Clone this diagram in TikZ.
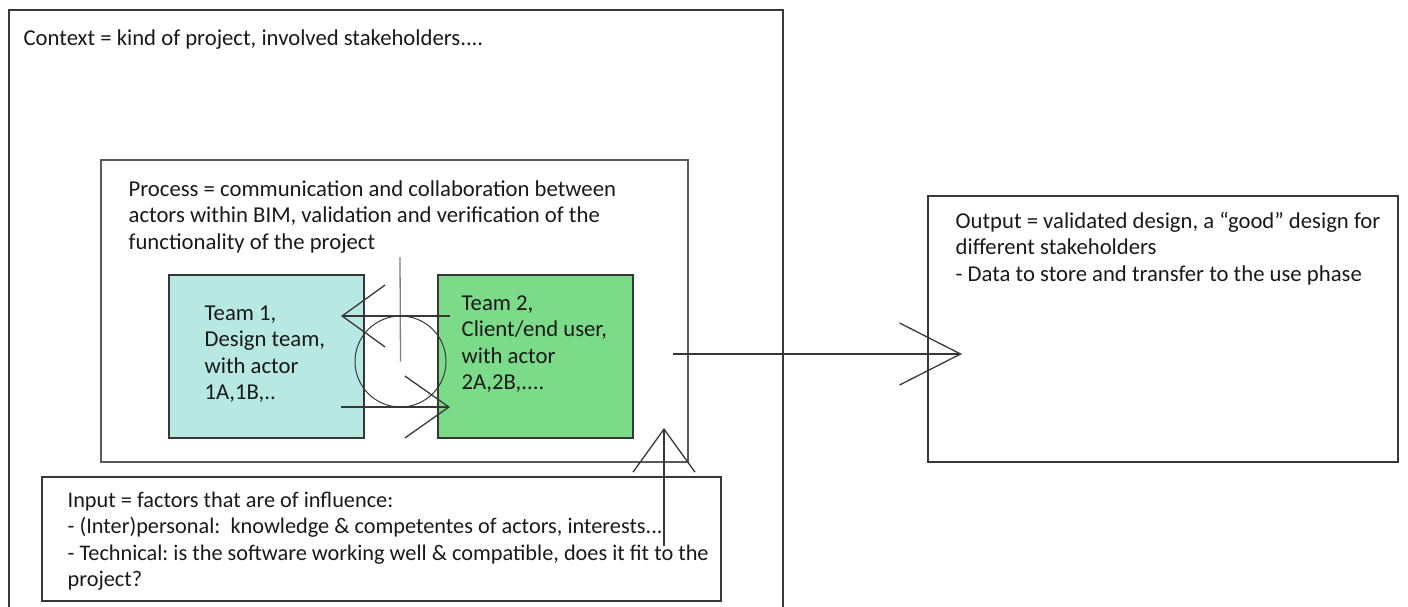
\documentclass[tikz,border=0pt]{standalone}
\usepackage{fontspec}
\setmainfont{Carlito}
\usepackage{tikz}
\usetikzlibrary{arrows.meta}
\definecolor{teamcyan}{RGB}{183,233,226}
\definecolor{teamgreen}{RGB}{124,219,137}
\definecolor{framegray}{RGB}{55,55,55}
\tikzset{every picture/.style={line width=1.3pt}}
\frenchspacing

\begin{document}
\begin{tikzpicture}[x=1pt,y=1pt,yscale=-1,xscale=1,
  box/.style={draw=framegray, rectangle, inner sep=0pt, outer sep=0pt},
  txt/.style={anchor=base west, inner sep=0pt, align=left, text=black!90, font=\fontsize{22.7}{26.5}\selectfont},
  barb/.style={draw=framegray, -{Straight Barb[length=#1,width=62pt]}}]
\useasboundingbox (0,0) rectangle (1408,607);
\clip (0,0) rectangle (1408,607);

%Shape: Rectangle -- context
\node[box, minimum width=774, minimum height=640] (ctx) at (396,330) {};
\node[txt] (ctxtext) at (23,46) {Context = kind of project, involved stakeholders....};
%Shape: Rectangle -- process (text anchored at its last baseline)
\node[box, draw=gray!70!black, line width=1.7pt, minimum width=587, minimum height=302] (proc) at (394.5,311) {};
\node[txt] (proctext) at (128,249) {Process = communication and collaboration between\\actors within BIM, validation and verification of the\\functionality of the project};
%Shape: Rectangle -- team 1
\node[box, fill=teamcyan, minimum width=195, minimum height=163] (team1) at (266.5,356.5) {};
\node[txt] (team1text) at (204,399.5) {Team 1,\\Design team,\\with actor\\1A,1B,..};
%Shape: Rectangle -- team 2
\node[box, fill=teamgreen, minimum width=195, minimum height=163] (team2) at (535.5,356.5) {};
\node[txt] (team2text) at (461,389.5) {Team 2,\\Client/end user,\\with actor\\2A,2B,....};
%Shape: Circle
\node[draw=framegray, line width=1pt, circle, inner sep=0pt, minimum size=91] (talk) at (400.5,361.5) {};
%Straight Lines
\coordinate (axis) at (400,257);
\draw[gray] (axis) -- (talk.center);
%Straight Lines -- team 2 to team 1
\coordinate (t2in) at (450,316);
\coordinate (t1tip) at (341,316);
\draw[barb=43pt] (t2in) -- (t1tip);
%Straight Lines -- team 1 to team 2
\coordinate (t1in) at (341,407);
\coordinate (t2tip) at (450,407);
\draw[barb=44pt] (t1in) -- (t2tip);
%Shape: Rectangle -- input
\node[box, minimum width=679, minimum height=124] (inp) at (381.5,539) {};
\node[txt, font=\fontsize{22.3}{26.5}\selectfont] (inptext) at (67,586.5) {Input = factors that are of influence:\\- (Inter)personal:\ \ knowledge \& competentes of actors, interests...\\- Technical: is the software working well \& compatible, does it fit to the\\project?};
%Shape: Rectangle -- output
\node[box, minimum width=470, minimum height=266] (out) at (1163,329) {};
\node[txt] (outtext) at (955,281) {Output = validated design, a “good” design for\\different stakeholders\\- Data to store and transfer to the use phase};
%Straight Lines -- input to process
\coordinate (inpsrc) at (664,546);
\coordinate (inptip) at (664,428);
\draw[barb=43pt] (inpsrc) -- (inptip);
%Straight Lines -- process to output
\coordinate (procsrc) at (673,354);
\coordinate (outtip) at (962,354);
\draw[barb=61pt] (procsrc) -- (outtip);
\end{tikzpicture}
\end{document}
